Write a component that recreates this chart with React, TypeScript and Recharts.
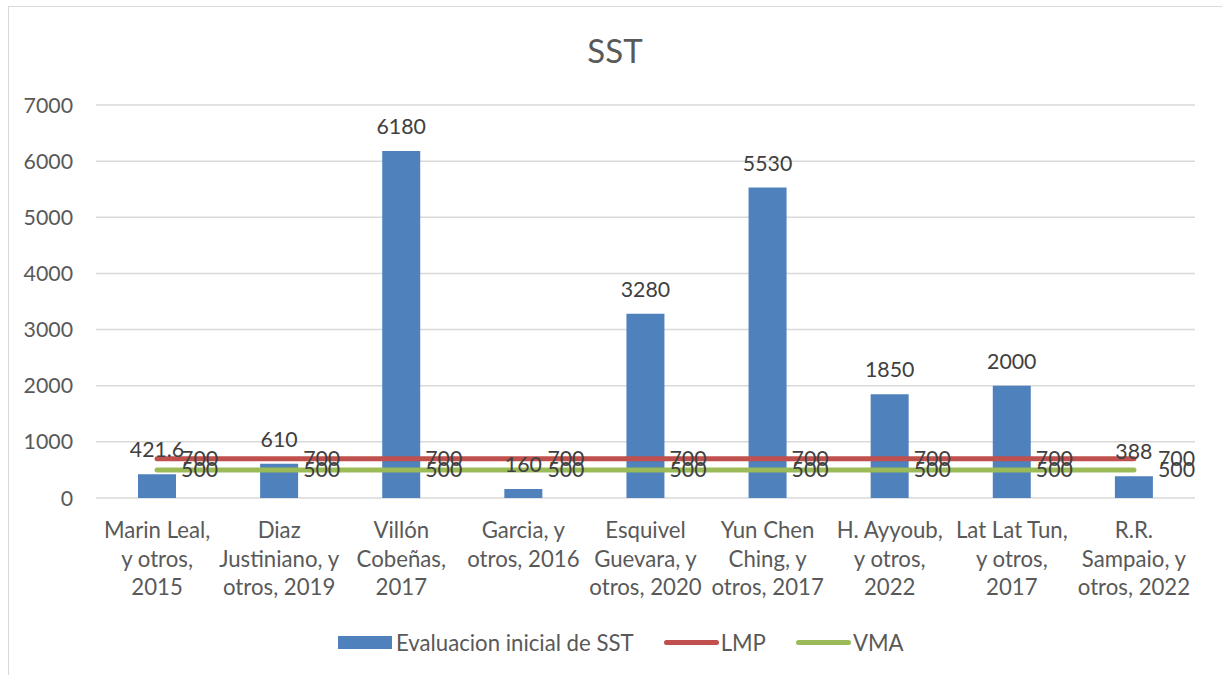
import { ComposedChart, Bar, Line, XAxis, YAxis, CartesianGrid, Legend, LabelList } from 'recharts';

const categories = [
  'Marin Leal,\ny otros,\n2015',
  'Diaz\nJustiniano, y\notros, 2019',
  'Villón\nCobeñas,\n2017',
  'Garcia, y\notros, 2016',
  'Esquivel\nGuevara, y\notros, 2020',
  'Yun Chen\nChing, y\notros, 2017',
  'H. Ayyoub,\ny otros,\n2022',
  'Lat Lat Tun,\ny otros,\n2017',
  'R.R.\nSampaio, y\notros, 2022',
];
const sstValues = [421.6, 610, 6180, 160, 3280, 5530, 1850, 2000, 388];
const lmpValues = [700, 700, 700, 700, 700, 700, 700, 700, 700];
const vmaValues = [500, 500, 500, 500, 500, 500, 500, 500, 500];
const yTicks = [0, 1000, 2000, 3000, 4000, 5000, 6000, 7000];

const seriesNames = { sst: 'Evaluacion inicial de SST', lmp: 'LMP', vma: 'VMA' };

const data = categories.map((name, i) => ({
  name,
  sst: sstValues[i],
  lmp: lmpValues[i],
  vma: vmaValues[i],
}));

const FONT = 'Lato, "Open Sans", sans-serif';
const AXIS_GREY = '#595959';
const LABEL_GREY = '#404040';
const BLUE = '#4f81bd';
const RED = '#c0504d';
const GREEN = '#9bbb59';
const NUM_SIZE = 21.3;
const TEXT_SIZE = 22.2;

function CategoryTick(props: any) {
  const { x, y, payload } = props;
  const lines = String(payload.value).split('\n');
  return (
    <text x={x} y={y + 40} textAnchor="middle" fill={AXIS_GREY} fontSize={TEXT_SIZE} fontFamily={FONT}>
      {lines.map((ln, i) => (
        <tspan key={i} x={x} dy={i === 0 ? 0 : 28.5}>
          {ln}
        </tspan>
      ))}
    </text>
  );
}

function BarValueLabel(props: any) {
  const { x, y, width, value } = props;
  return (
    <text x={x + width / 2} y={y - 17} textAnchor="middle" fill={LABEL_GREY} fontSize={NUM_SIZE} fontFamily={FONT}>
      {value}
    </text>
  );
}

function LineValueLabel(props: any) {
  const { x, y, value } = props;
  return (
    <text x={x + 24} y={y} dy={7} textAnchor="start" fill={LABEL_GREY} fontSize={NUM_SIZE} fontFamily={FONT}>
      {value}
    </text>
  );
}

function LegendBox() {
  const txt = { fontFamily: FONT, fontSize: TEXT_SIZE, color: AXIS_GREY, marginLeft: 2, whiteSpace: 'nowrap' } as const;
  const lineSwatch = (c: string) => (
    <span style={{ width: 55, height: 5, borderRadius: 3, background: c, display: 'inline-block', marginLeft: 30 }} />
  );
  return (
    <div style={{ display: 'flex', alignItems: 'center', paddingLeft: 338, height: 30 }}>
      <span style={{ width: 54, height: 13, background: BLUE, display: 'inline-block' }} />
      <span style={{ ...txt, marginLeft: 4 }}>{seriesNames.sst}</span>
      {lineSwatch(RED)}
      <span style={txt}>{seriesNames.lmp}</span>
      {lineSwatch(GREEN)}
      <span style={txt}>{seriesNames.vma}</span>
    </div>
  );
}

export default function App() {
  return (
    <div style={{ position: 'absolute', left: 0, top: 0, width: 1222, height: 675, overflow: 'hidden', background: '#fff' }}>
      <div
        style={{
          position: 'absolute',
          left: 8,
          top: 6,
          width: 1240,
          height: 720,
          border: '1.5px solid #d9d9d9',
          boxSizing: 'border-box',
        }}
      />
      <div
        style={{
          position: 'absolute',
          left: 0,
          top: 34,
          width: 1230,
          textAlign: 'center',
          fontFamily: FONT,
          fontSize: 33,
          lineHeight: '33px',
          color: AXIS_GREY,
        }}
      >
        SST
      </div>
      <ComposedChart
        width={1222}
        height={675}
        data={data}
        margin={{ top: 105, right: 27, left: 0, bottom: 77 }}
        style={{ position: 'absolute', left: 0, top: 0 }}
      >
        <CartesianGrid vertical={false} stroke="#d9d9d9" strokeWidth={1.5} />
        <XAxis
          dataKey="name"
          axisLine={false}
          tickLine={false}
          tickSize={0}
          tickMargin={0}
          height={100}
          interval={0}
          tick={<CategoryTick />}
        />
        <YAxis
          width={96}
          domain={[0, 7000]}
          ticks={yTicks}
          axisLine={false}
          tickLine={false}
          tickSize={6}
          tickMargin={17}
          tick={{ fill: AXIS_GREY, fontSize: NUM_SIZE, fontFamily: FONT }}
        />
        <Bar dataKey="sst" name={seriesNames.sst} fill={BLUE} barSize={38} isAnimationActive={false}>
          <LabelList dataKey="sst" content={<BarValueLabel />} />
        </Bar>
        <Line
          dataKey="lmp"
          name={seriesNames.lmp}
          stroke={RED}
          strokeWidth={5}
          strokeLinecap="round"
          dot={false}
          activeDot={false}
          isAnimationActive={false}
        >
          <LabelList dataKey="lmp" content={<LineValueLabel />} />
        </Line>
        <Line
          dataKey="vma"
          name={seriesNames.vma}
          stroke={GREEN}
          strokeWidth={5}
          strokeLinecap="round"
          dot={false}
          activeDot={false}
          isAnimationActive={false}
        >
          <LabelList dataKey="vma" content={<LineValueLabel />} />
        </Line>
        <Legend
          layout="horizontal"
          verticalAlign="middle"
          align="center"
          content={<LegendBox />}
          wrapperStyle={{ top: 627, left: 0, width: 1222, height: 30 }}
        />
      </ComposedChart>
    </div>
  );
}
